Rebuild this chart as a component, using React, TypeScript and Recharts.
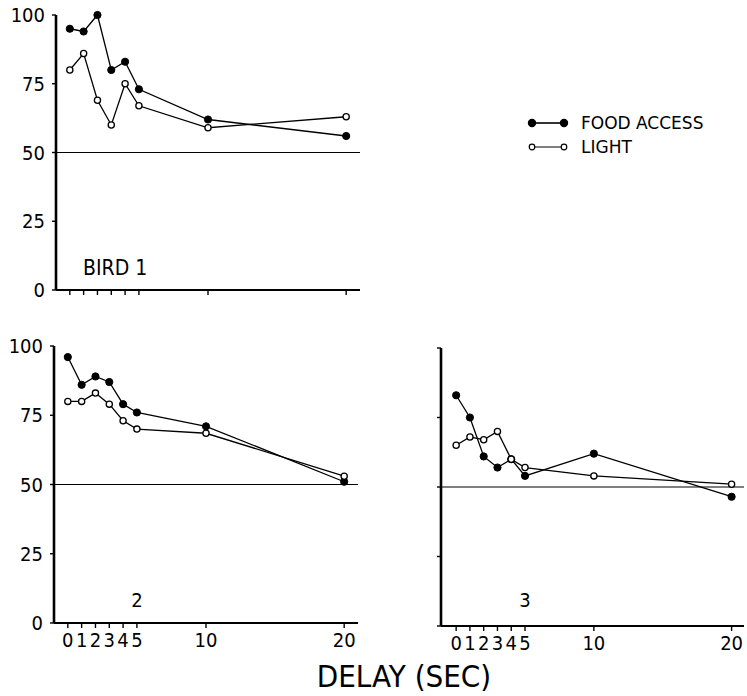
import React from 'react';
import { LineChart, Line, XAxis, YAxis, ReferenceLine, Legend } from 'recharts';

const DELAYS = [0, 1, 2, 3, 4, 5, 10, 20];
const X_TICKS = [0, 1, 2, 3, 4, 5, 10, 20];
const Y_TICKS = [0, 25, 50, 75, 100];

const bird1Food = [95, 94, 100, 80, 83, 73, 62, 56];
const bird1Light = [80, 86, 69, 60, 75, 67, 59, 63];
const bird2Food = [96, 86, 89, 87, 79, 76, 71, 51];
const bird2Light = [80, 80, 83, 79, 73, 70, 68.5, 53];
const bird3Food = [83, 75, 61, 57, 60, 54, 62, 46.5];
const bird3Light = [65, 68, 67, 70, 60, 57, 54, 51];

const SERIES_NAMES = { food: 'FOOD ACCESS', light: 'LIGHT' };
const PANEL_LABELS = ['BIRD 1', '2', '3'];
const X_TITLE = 'DELAY (SEC)';

const build = (food: number[], light: number[]) =>
  DELAYS.map((d, i) => ({ delay: d, food: food[i], light: light[i] }));

const data1 = build(bird1Food, bird1Light);
const data2 = build(bird2Food, bird2Light);
const data3 = build(bird3Food, bird3Light);

const NARROW = "'Liberation Sans Narrow', 'DejaVu Sans Condensed', 'DejaVu Sans', sans-serif";
const tickStyle = { fontFamily: NARROW, fontSize: 20, fill: '#000' };
const EmptyTick = () => <g />;

const foodDot = { r: 3.6, fill: '#000', stroke: '#000', strokeWidth: 1 };
const lightDot = { r: 3.1, fill: '#fff', stroke: '#000', strokeWidth: 1.3 };

const renderLegend = (props: any) => {
  const { payload } = props;
  return (
    <div style={{ fontFamily: "'DejaVu Sans', sans-serif", fontSize: 17, color: '#000' }}>
      {(payload || []).map((entry: any, i: number) => {
        const filled = entry.dataKey === 'food';
        return (
          <div key={i} style={{ display: 'flex', alignItems: 'center', height: 24 }}>
            <svg width={42} height={24} style={{ display: 'block' }}>
              <line x1={5} y1={12} x2={37} y2={12} stroke="#000" strokeWidth={filled ? 1.6 : 1} />
              <circle cx={5} cy={12} r={filled ? 3.6 : 2.8} fill={filled ? '#000' : '#fff'} stroke="#000" strokeWidth={1.2} />
              <circle cx={37} cy={12} r={filled ? 3.6 : 2.8} fill={filled ? '#000' : '#fff'} stroke="#000" strokeWidth={1.2} />
            </svg>
            <span style={{ marginLeft: 12, lineHeight: '24px' }}>{entry.value}</span>
          </div>
        );
      })}
    </div>
  );
};

type PanelProps = {
  data: any[];
  left: number;
  top: number;
  width: number;
  height: number;
  yAxisWidth: number;
  plotTop: number;
  plotHeight: number;
  plotWidth: number;
  xDomain: [number, number];
  showXLabels: boolean;
  showYLabels: boolean;
  legend?: boolean;
};

const Panel = (p: PanelProps) => {
  const xAxisHeight = p.height - p.plotTop - p.plotHeight;
  const marginRight = p.width - p.yAxisWidth - p.plotWidth;
  return (
    <div style={{ position: 'absolute', left: p.left, top: p.top }}>
      <LineChart
        width={p.width}
        height={p.height}
        data={p.data}
        margin={{ top: p.plotTop, right: marginRight, bottom: 0, left: 0 }}
      >
        <XAxis
          type="number"
          dataKey="delay"
          domain={p.xDomain}
          ticks={X_TICKS}
          interval={0}
          height={xAxisHeight}
          axisLine={{ stroke: '#000', strokeWidth: 2.2 }}
          tickLine={{ stroke: '#000', strokeWidth: 1.4 }}
          tickSize={5}
          tickMargin={5}
          tick={p.showXLabels ? tickStyle : EmptyTick}
          allowDataOverflow
        />
        <YAxis
          type="number"
          domain={[0, 100]}
          ticks={Y_TICKS}
          interval={0}
          width={p.yAxisWidth}
          axisLine={{ stroke: '#000', strokeWidth: 2.6 }}
          tickLine={{ stroke: '#000', strokeWidth: 1.4 }}
          tickSize={4}
          tickMargin={7}
          tick={p.showYLabels ? tickStyle : EmptyTick}
        />
        <ReferenceLine y={50} stroke="#000" strokeWidth={1.2} />
        <Line
          type="linear"
          dataKey="food"
          name={SERIES_NAMES.food}
          stroke="#000"
          strokeWidth={1.3}
          dot={foodDot}
          activeDot={false}
          isAnimationActive={false}
        />
        <Line
          type="linear"
          dataKey="light"
          name={SERIES_NAMES.light}
          stroke="#000"
          strokeWidth={1.3}
          dot={lightDot}
          activeDot={false}
          isAnimationActive={false}
        />
        {p.legend && (
          <Legend
            layout="vertical"
            align="center"
            verticalAlign="middle"
            content={renderLegend}
            wrapperStyle={{ position: 'absolute', left: 527, top: 111, width: 220, height: 50 }}
          />
        )}
      </LineChart>
    </div>
  );
};

export default function App() {
  return (
    <div style={{ position: 'absolute', left: 0, top: 0, width: 747, height: 696, background: '#fff' }}>
      <Panel
        data={data1}
        left={0}
        top={0}
        width={747}
        height={320}
        yAxisWidth={56}
        plotTop={15}
        plotHeight={275}
        plotWidth={304}
        xDomain={[-1, 21]}
        showXLabels={false}
        showYLabels={true}
        legend
      />
      <Panel
        data={data2}
        left={0}
        top={330}
        width={370}
        height={330}
        yAxisWidth={54}
        plotTop={16}
        plotHeight={277}
        plotWidth={304}
        xDomain={[-1, 21]}
        showXLabels={true}
        showYLabels={true}
      />
      <Panel
        data={data3}
        left={390}
        top={330}
        width={357}
        height={330}
        yAxisWidth={51}
        plotTop={18}
        plotHeight={278}
        plotWidth={303}
        xDomain={[-1.1, 20.9]}
        showXLabels={true}
        showYLabels={false}
      />
      <svg
        width={747}
        height={696}
        style={{ position: 'absolute', left: 0, top: 0, pointerEvents: 'none' }}
      >
        <text x={83} y={275} fontFamily={NARROW} fontSize={21} fill="#000">{PANEL_LABELS[0]}</text>
        <text x={137} y={607} fontFamily={NARROW} fontSize={20} fill="#000" textAnchor="middle">{PANEL_LABELS[1]}</text>
        <text x={525} y={607} fontFamily={NARROW} fontSize={20} fill="#000" textAnchor="middle">{PANEL_LABELS[2]}</text>
        <text x={404} y={687} fontFamily="'DejaVu Sans Condensed', 'DejaVu Sans', sans-serif" fontSize={31} fill="#000" textAnchor="middle">{X_TITLE}</text>
      </svg>
    </div>
  );
}
